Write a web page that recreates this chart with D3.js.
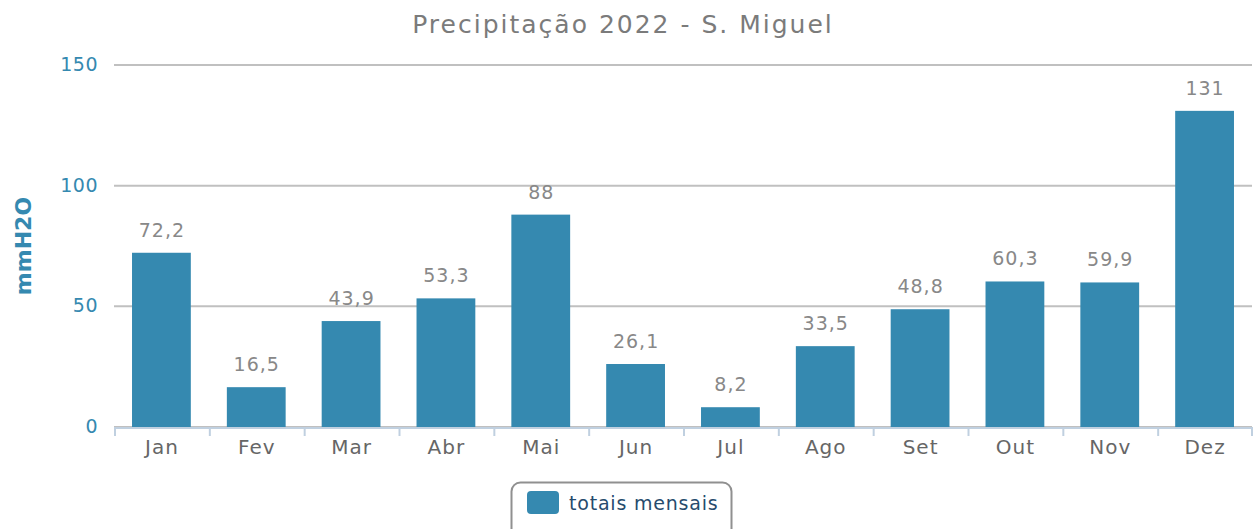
<!DOCTYPE html>
<html>
<head>
<meta charset="utf-8">
<script src="https://cdn.jsdelivr.net/npm/d3@7"></script>
<style>
  body { margin: 0; background: #fff; }
  svg text { font-family: "DejaVu Sans", Verdana, sans-serif; }
</style>
</head>
<body>
<svg id="chart" width="1255" height="529"></svg>
<script>
const months = ["Jan", "Fev", "Mar", "Abr", "Mai", "Jun", "Jul", "Ago", "Set", "Out", "Nov", "Dez"];
const totals = [72.2, 16.5, 43.9, 53.3, 88, 26.1, 8.2, 33.5, 48.8, 60.3, 59.9, 131];
const yTicks = [0, 50, 100, 150];

const svg = d3.select("#chart");
const margin = { top: 65, right: 3, bottom: 102, left: 114 };
const width = 1255 - margin.left - margin.right;
const height = 529 - margin.top - margin.bottom;

const x = d3.scaleBand().domain(months).range([0, width]).paddingInner(0.38).paddingOuter(0.19);
const y = d3.scaleLinear().domain([0, 150]).range([height, 0]);

const fmt = v => String(v).replace(".", ",");

// title
svg.append("text")
    .attr("x", 623).attr("y", 33)
    .attr("text-anchor", "middle")
    .style("font-size", "25px")
    .style("letter-spacing", "2px")
    .style("fill", "#7b7b7b")
    .text("Precipitação 2022 - S. Miguel");

const g = svg.append("g").attr("transform", `translate(${margin.left},${margin.top})`);

// gridlines
g.selectAll(".grid")
    .data(yTicks)
    .join("line")
    .attr("x1", 0).attr("x2", width)
    .attr("y1", d => y(d)).attr("y2", d => y(d))
    .style("stroke", "#c0c0c0")
    .style("stroke-width", 2);

// y tick labels
g.selectAll(".ylab")
    .data(yTicks)
    .join("text")
    .attr("x", -16).attr("y", d => y(d) + 6)
    .attr("text-anchor", "end")
    .style("font-size", "19px")
    .style("letter-spacing", "0.5px")
    .style("fill", "#3589b0")
    .text(d => d);

// y axis title
svg.append("text")
    .attr("transform", "translate(31,246) rotate(-90)")
    .attr("text-anchor", "middle")
    .style("font-size", "22px")
    .style("font-weight", "bold")
    .style("fill", "#3589b0")
    .text("mmH2O");

// bars
g.selectAll(".bar")
    .data(totals)
    .join("rect")
    .attr("x", (d, i) => x(months[i]))
    .attr("y", d => y(d))
    .attr("width", x.bandwidth())
    .attr("height", d => y(0) - y(d))
    .style("fill", "#3589b0");

// value labels
g.selectAll(".val")
    .data(totals)
    .join("text")
    .attr("x", (d, i) => x(months[i]) + x.bandwidth() / 2 + 0.5)
    .attr("y", d => y(d) - 16)
    .attr("text-anchor", "middle")
    .style("font-size", "19px")
    .style("letter-spacing", "1px")
    .style("fill", "#888")
    .text(fmt);

// x axis
const step = x.step();
g.append("line")
    .attr("x1", 0).attr("x2", width)
    .attr("y1", height + 1).attr("y2", height + 1)
    .style("stroke", "#c0d0e0").style("stroke-width", 2);
g.selectAll(".xtick")
    .data(d3.range(months.length + 1))
    .join("line")
    .attr("x1", i => Math.min(i * step, width - 1) + 1)
    .attr("x2", i => Math.min(i * step, width - 1) + 1)
    .attr("y1", height).attr("y2", height + 9)
    .style("stroke", "#c0d0e0").style("stroke-width", 2);
g.selectAll(".xlab")
    .data(months)
    .join("text")
    .attr("x", d => x(d) + x.bandwidth() / 2 + 0.5)
    .attr("y", height + 27)
    .attr("text-anchor", "middle")
    .style("font-size", "20px")
    .style("letter-spacing", "1px")
    .style("fill", "#666")
    .text(d => d);

// legend
const lg = svg.append("g").attr("transform", "translate(511,482)");
lg.append("rect")
    .attr("x", 0.5).attr("y", 0.5)
    .attr("width", 220).attr("height", 56)
    .attr("rx", 9)
    .style("fill", "#fff")
    .style("stroke", "#909090").style("stroke-width", 2);
lg.append("rect")
    .attr("x", 16).attr("y", 9)
    .attr("width", 32).attr("height", 23)
    .attr("rx", 4)
    .style("fill", "#3589b0");
lg.append("text")
    .attr("x", 58).attr("y", 28)
    .style("font-size", "19px")
    .style("letter-spacing", "0.8px")
    .style("fill", "#274b6d")
    .text("totais mensais");
</script>
</body>
</html>
